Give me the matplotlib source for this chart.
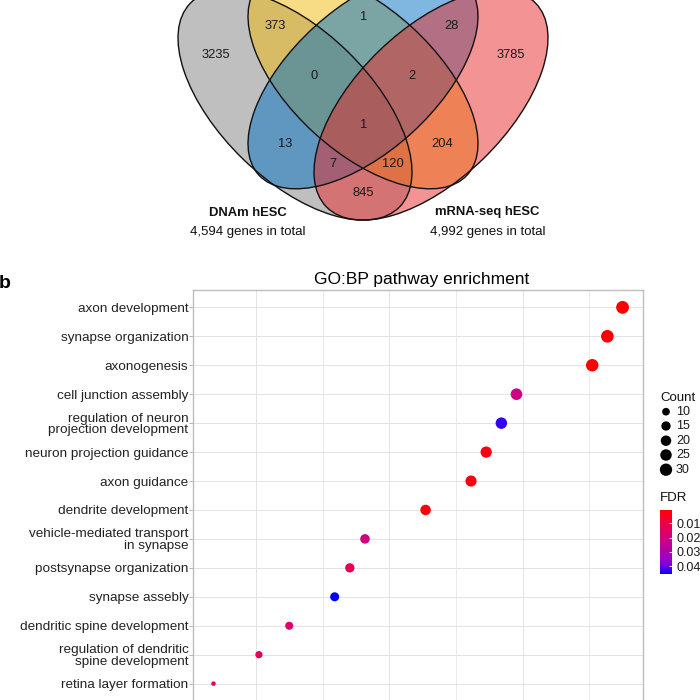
import numpy as np
import matplotlib
matplotlib.use('Agg')
import matplotlib.pyplot as plt
from matplotlib.patches import Ellipse
from matplotlib.colors import LinearSegmentedColormap

plt.rcParams['font.family'] = ['Liberation Sans', 'DejaVu Sans']

# ---- panel a: 4-set venn (A = DNAm hESC, D = mRNA-seq hESC) ----
region_sets = ['A', 'AB', 'BC', 'CD', 'D', 'ABC', 'BCD', 'ABCD', 'AC', 'BD', 'ACD', 'ABD', 'AD']
region_counts = [3235, 373, 1, 28, 3785, 0, 2, 1, 13, 204, 7, 120, 845]
set_names = ['DNAm hESC', 'mRNA-seq hESC']
set_totals = [4594, 4992]

# ---- panel b: GO:BP enrichment ----
terms = ['axon development', 'synapse organization', 'axonogenesis',
         'cell junction assembly', 'regulation of neuron\nprojection development',
         'neuron projection guidance', 'axon guidance', 'dendrite development',
         'vehicle-mediated transport\nin synapse', 'postsynapse organization',
         'synapse assebly', 'dendritic spine development',
         'regulation of dendritic\nspine development', 'retina layer formation']
counts = np.array([33, 32, 31, 26, 25, 24, 23, 20, 16, 15, 14, 11, 9, 6])
fdr = np.array([0.0002, 0.0006, 0.001, 0.022, 0.043, 0.003, 0.002, 0.002,
                0.021, 0.013, 0.0456, 0.016, 0.014, 0.015])
n_input = 440
size_breaks = [10, 15, 20, 25, 30]
fdr_breaks = [0.01, 0.02, 0.03, 0.04]

W = H = 700
fig = plt.figure(figsize=(7, 7), dpi=100)

# dot plot
ax = fig.add_axes([193 / W, -1 / H, 450 / W, 411 / H])
ratio = counts / n_input
cmin, cmax = counts.min(), counts.max()


def diam(c):
    # point diameter in px, area scale like ggplot
    return 4.5 + 8.3 * np.sqrt((np.asarray(c) - cmin) / (cmax - cmin))


cmap = LinearSegmentedColormap.from_list('fdr', [
    (0.0, (1, 0, 0)), (0.25, (232 / 255, 0, 80 / 255)), (0.5, (202 / 255, 0, 136 / 255)),
    (0.75, (156 / 255, 0, 196 / 255)), (0.875, (115 / 255, 0, 224 / 255)), (1.0, (0, 0, 1))])

ypos = np.arange(len(terms))
sc = ax.scatter(ratio, ypos, s=(diam(counts) * 0.72) ** 2, c=fdr, cmap=cmap,
                vmin=fdr.min(), vmax=fdr.max(), linewidths=0, zorder=3)
span = ratio.max() - ratio.min()
ax.set_xlim(ratio.min() - 0.05 * span, ratio.max() + 0.05 * span)
ax.set_ylim(len(terms) - 0.4, -0.6)
ax.set_yticks(ypos)
ax.set_yticklabels(terms, fontsize=9.7, color='#222222', linespacing=0.97)
ax.set_xticks([0.02, 0.04, 0.06])
ax.set_xticks([0.03, 0.05, 0.07], minor=True)
ax.grid(True, which='major', color='#E3E3E3', lw=0.7, zorder=0)
ax.grid(True, which='minor', axis='x', color='#E8E8E8', lw=0.6, zorder=0)
ax.set_axisbelow(True)
ax.tick_params(axis='y', length=3, width=0.7, color='#B3B3B3', pad=0.3)
ax.tick_params(axis='x', which='both', length=3, color='#B3B3B3', labelbottom=False)
for sp in ax.spines.values():
    sp.set_color('#BDBDBD')
    sp.set_linewidth(1.0)
ax.text(0.5078, 1 + 10.5 / 411, 'GO:BP pathway enrichment', transform=ax.transAxes,
        ha='center', va='center', fontsize=12.5, color='black')

# colorbar (FDR)
cax = fig.add_axes([659.5 / W, 1 - 574 / H, 12.5 / W, 64.5 / H])
cb = fig.colorbar(sc, cax=cax, ticks=fdr_breaks)
cb.ax.invert_yaxis()
cb.outline.set_visible(False)
cb.ax.tick_params(direction='in', color='white', length=2.5, width=0.6, pad=3,
                  labelsize=9, labelcolor='#1a1a1a')
cb.ax.set_yticklabels([f'{v:.2f}' for v in fdr_breaks])

# overlay in pixel coords: venn, size key, panel letter
ov = fig.add_axes([0, 0, 1, 1])
ov.set_xlim(0, W)
ov.set_ylim(H, 0)
ov.axis('off')

ellipses = [((295, 105), 292, 150, 44.2, (128, 128, 128)),   # A gray
            ((363, 80), 282, 144, 42.3, (240, 186, 12)),     # B yellow
            ((363, 80), 282, 144, 137.7, (0, 112, 196)),     # C blue
            ((431, 105), 292, 150, 135.8, (232, 40, 40))]    # D red
for xy, w, h, ang, col in ellipses:
    ov.add_patch(Ellipse(xy, w, h, angle=ang, facecolor=np.array(col) / 255,
                         alpha=0.5, edgecolor='none'))
for xy, w, h, ang, col in ellipses:
    ov.add_patch(Ellipse(xy, w, h, angle=ang, fill=False, edgecolor='#111111', lw=1.0))

label_pos = {'A': (215.5, 55.5), 'AB': (275, 26), 'BC': (363.3, 16.5), 'CD': (451.7, 26),
             'D': (510.5, 55.5), 'ABC': (314, 76), 'BCD': (412.3, 76), 'ABCD': (363.3, 125),
             'AC': (285, 144), 'BD': (441.7, 144), 'ACD': (333.3, 164), 'ABD': (392.7, 164),
             'AD': (363.3, 192.5)}
for s, n in zip(region_sets, region_counts):
    x, y = label_pos[s]
    ov.text(x, y, str(n), ha='center', va='center', fontsize=9.3, color='#1a1a1a')

for x, name, tot in zip([247.7, 487.3], set_names, set_totals):
    ov.text(x, 212.5, name, ha='center', va='center', fontsize=9.4,
            fontweight='bold', color='#111111')
    ov.text(x, 231.5, f'{tot:,} genes in total', ha='center', va='center',
            fontsize=9.5, color='#111111')

ov.text(-1, 284, 'b', ha='left', va='center', fontsize=14, fontweight='bold')

# size legend (Count)
ov.text(660, 398, 'Count', ha='left', va='center', fontsize=9.5, color='#111111')
key_y = [411.7, 426, 440.7, 455, 469.7]
ov.scatter([666] * len(size_breaks), key_y, s=(diam(size_breaks) * 0.72) ** 2,
           color='black', linewidths=0)
for yy, b in zip(key_y, size_breaks):
    ov.text(676, yy, str(b), ha='left', va='center', fontsize=9, color='#1a1a1a')
ov.text(659.5, 498.3, 'FDR', ha='left', va='center', fontsize=9.5, color='#111111')

fig.savefig('out.png', dpi=100)
